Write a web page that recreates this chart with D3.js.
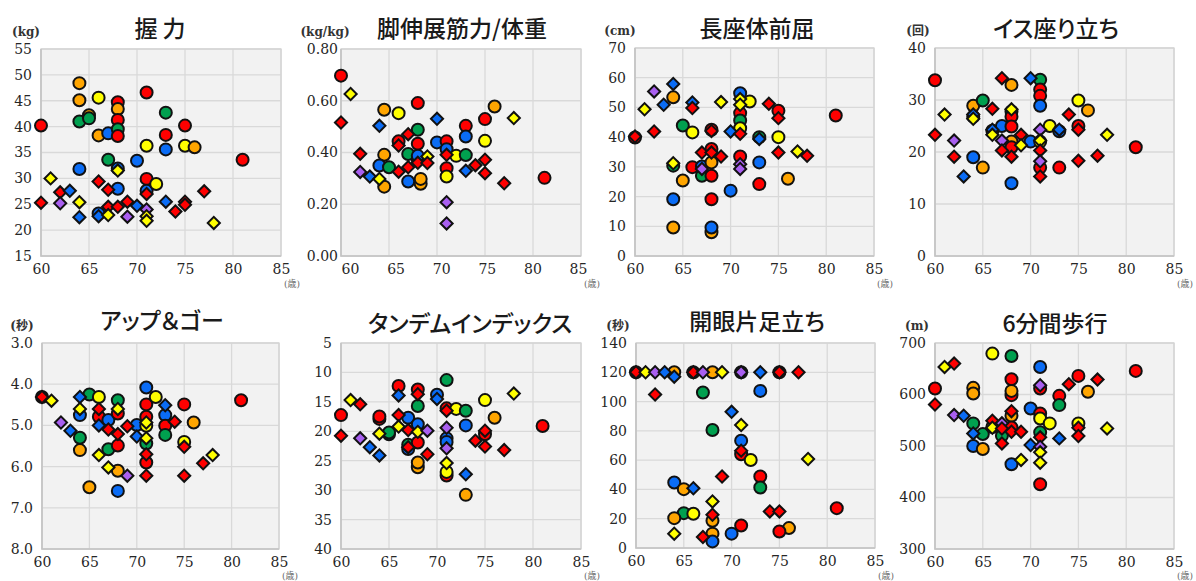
<!DOCTYPE html>
<html>
<head>
<meta charset="utf-8">
<script src="https://cdn.jsdelivr.net/npm/d3@7"></script>
<style>
    body { margin: 0; background: #fff; }
    svg { display: block; }
    .tick text { font-family: "DejaVu Serif", serif; font-size: 14px; fill: #262626; }
    .title { font-family: "Noto Sans CJK JP", sans-serif; font-size: 23px; font-weight: 500; fill: #1a1a1a; font-feature-settings: "palt" 1; }
    .unit { font-family: "DejaVu Serif", "Noto Sans CJK JP", serif; font-size: 12px; font-weight: bold; fill: #333; }
    .age { font-family: "DejaVu Serif", "Noto Sans CJK JP", serif; font-size: 9px; fill: #666; }
</style>
</head>
<body>
<svg id="chart" width="1196" height="581"></svg>
<script>
// Groups: first letter = colour group, second letter = c (circle) / d (diamond)
const groups = ["r", "o", "y", "g", "b", "p"];
const groupColors = ["#ff0000", "#ffa500", "#ffff00", "#00a04f", "#0a6cf5", "#a95ff0"];

const ageDomain = [60, 85];
const ageTicks = [60, 65, 70, 75, 80, 85];

// [age, value, group]
const gripData = [
    [60, 40.2, "rc"], [60, 25.3, "rd"], [61, 30, "yd"], [62, 27.3, "rd"], [62, 25.2, "pd"], [63, 27.6, "bd"],
    [64, 48.4, "oc"], [64, 45.1, "oc"], [64, 41, "gc"], [65, 42.2, "oc"], [65, 41.6, "gc"], [64, 31.8, "bc"],
    [64, 25.4, "yd"], [64, 22.5, "bd"], [66, 45.6, "yc"], [66, 38.3, "oc"], [67, 38.7, "bc"], [66, 29.4, "rd"],
    [66, 23.2, "bc"], [66, 22.7, "bd"], [67, 33.6, "gc"], [67, 27.8, "rd"], [67, 24.5, "rd"], [67, 22.9, "yd"],
    [68, 44.7, "rc"], [68, 43.4, "oc"], [68, 41.3, "rc"], [68, 39.5, "gc"], [68, 38.2, "rc"], [68, 31.9, "bc"],
    [68, 31.5, "yd"], [68, 28, "bc"], [68, 24.5, "rd"], [69, 25.5, "rd"], [69, 22.6, "pd"], [70, 33.4, "bc"],
    [70, 24.7, "bd"], [71, 46.6, "rc"], [71, 36.3, "yc"], [71, 29.9, "rc"], [71, 27.6, "bc"], [71, 27, "rd"],
    [71, 24, "pd"], [71, 22.7, "yd"], [71, 21.8, "yd"], [72, 28.9, "yc"], [73, 42.7, "gc"], [73, 38.4, "rc"],
    [73, 35.6, "bc"], [73, 25.5, "bd"], [74, 23.6, "rd"], [75, 40.2, "rc"], [75, 36.3, "yc"], [75, 25.5, "rd"],
    [75, 24.9, "rd"], [76, 36, "oc"], [77, 27.5, "rd"], [78, 21.4, "yd"], [81, 33.6, "rc"]
];

const legData = [
    [60, 0.697, "rc"], [60, 0.516, "rd"], [61, 0.626, "yd"], [62, 0.395, "rd"], [62, 0.325, "pd"], [63, 0.307, "bd"],
    [64.5, 0.565, "oc"], [64, 0.503, "bd"], [64.5, 0.391, "oc"], [64, 0.35, "bc"], [64, 0.298, "yd"], [64.5, 0.268, "oc"],
    [65, 0.343, "gc"], [66, 0.552, "yc"], [66, 0.443, "rc"], [66, 0.427, "rd"], [66, 0.326, "rd"], [67, 0.471, "rd"],
    [67, 0.394, "gc"], [67, 0.343, "rd"], [67, 0.288, "bc"], [68, 0.591, "rc"], [68, 0.488, "gc"], [68, 0.434, "rc"],
    [68, 0.372, "rc"], [68, 0.36, "rd"], [68, 0.387, "bc"], [68.3, 0.279, "oc"], [68.3, 0.298, "oc"], [69, 0.385, "yd"],
    [69, 0.359, "rd"], [70, 0.53, "bd"], [70, 0.439, "bc"], [71, 0.443, "rc"], [71, 0.413, "bc"], [71, 0.391, "rd"],
    [71, 0.339, "rc"], [71, 0.307, "yc"], [71, 0.208, "pd"], [71, 0.126, "pd"], [72, 0.387, "yc"], [73, 0.39, "gc"],
    [73, 0.503, "rc"], [73, 0.462, "bc"], [73, 0.329, "bd"], [74, 0.351, "rd"], [75, 0.529, "rc"], [75, 0.445, "yc"],
    [75, 0.372, "rd"], [75, 0.32, "rd"], [76, 0.578, "oc"], [77, 0.281, "rd"], [78, 0.533, "yd"], [81.2, 0.302, "rc"]
];

const sitReachData = [
    [60, 39.9, "rc"], [60, 40.2, "rd"], [61, 49.4, "yd"], [62, 55.4, "pd"], [62, 41.9, "rd"], [63, 50.9, "bd"],
    [64, 57.9, "bd"], [64, 53.4, "oc"], [64, 30.4, "gc"], [64, 31.2, "yd"], [64, 19.1, "bc"], [64, 9.6, "oc"],
    [65, 43.9, "gc"], [65, 25.4, "oc"], [66, 51.7, "bd"], [66, 49.8, "rd"], [66, 41.6, "yc"], [66, 29.9, "rc"],
    [67, 34.8, "rd"], [67, 30.1, "bc"], [67, 27, "gc"], [67, 29.3, "pd"], [68, 42.5, "rc"], [68, 42.1, "rd"],
    [68, 36, "rc"], [68, 34.8, "rd"], [68, 31.5, "oc"], [68, 27, "rc"], [68, 19.1, "rc"], [68, 8, "oc"],
    [68, 9.6, "bc"], [69, 51.8, "yd"], [69, 33.5, "rd"], [70, 41.9, "bd"], [70, 22, "bc"], [71, 54.8, "bc"],
    [71, 52.8, "yd"], [71, 50.9, "yd"], [71, 48.1, "rc"], [71, 45.6, "gc"], [71, 43, "yc"], [71, 41.1, "rd"],
    [71, 33.5, "rc"], [71, 30.9, "pd"], [71, 29.3, "pd"], [72, 52, "yc"], [73, 40, "gc"], [73, 39.4, "bd"],
    [73, 31.5, "bc"], [73, 24.2, "rc"], [74, 51.2, "rd"], [75, 48.9, "rc"], [75, 46.4, "rd"], [75, 40, "yc"],
    [75, 34.8, "rd"], [76, 26, "oc"], [77, 35.2, "yd"], [78, 33.7, "rd"], [81, 47.3, "rc"]
];

const chairStandData = [
    [60, 33.8, "rc"], [60, 23.3, "rd"], [61, 27.2, "yd"], [62, 22.2, "pd"], [62, 19.1, "rd"], [63, 15.3, "bd"],
    [64, 28.9, "oc"], [64, 26.8, "bc"], [64, 27.2, "bd"], [64, 26.4, "yd"], [64, 19, "bc"], [65, 29.9, "gc"],
    [65, 17, "oc"], [66, 28.3, "rd"], [66, 24.1, "bc"], [66, 24.3, "bd"], [66, 23.3, "yd"], [67, 25, "bc"],
    [67, 34.2, "rd"], [67, 22.2, "pd"], [67, 20.3, "rd"], [68, 32.9, "oc"], [68, 27.8, "gc"], [68, 28.2, "yd"],
    [68, 26.8, "rc"], [68, 24.9, "rc"], [68, 22, "oc"], [68, 20.9, "rc"], [68, 19.1, "rd"], [68, 14, "bc"],
    [69, 23.3, "rd"], [69, 21.3, "yd"], [70, 34.2, "bd"], [70, 22, "bc"], [71, 33.9, "gc"], [71, 32, "rc"],
    [71, 30.8, "rc"], [71, 28.9, "bc"], [71, 24.3, "pd"], [71, 22, "yc"], [71, 22.2, "yd"], [71, 20.3, "rd"],
    [71, 18.2, "pd"], [71, 17, "rc"], [71, 15.3, "rd"], [72, 25, "yc"], [73, 24, "bc"], [73, 24.3, "bd"],
    [73, 17, "rc"], [74, 27.2, "rd"], [75, 25, "rc"], [75, 24.3, "rd"], [75, 18.3, "rd"], [75, 29.9, "yc"],
    [76, 28, "oc"], [77, 19.3, "rd"], [78, 23.3, "yd"], [81, 20.9, "rc"]
];

const upGoData = [
    [60, 4.31, "rc"], [60, 4.31, "rd"], [61, 4.4, "yd"], [62, 4.93, "pd"], [63, 5.13, "bd"], [64, 4.31, "bd"],
    [64, 4.75, "bc"], [64, 4.6, "yd"], [64, 5.3, "gc"], [64, 5.6, "oc"], [65, 4.25, "gc"], [65, 6.5, "oc"],
    [66, 4.31, "yc"], [66, 4.79, "rc"], [66, 4.6, "rd"], [66, 5, "bd"], [66, 5.72, "yd"], [67, 4.87, "bc"],
    [67, 5.1, "rd"], [67, 5.58, "gc"], [67, 6.02, "yd"], [68, 4.39, "gc"], [68, 4.71, "rc"], [68, 4.6, "yd"],
    [68, 5.21, "rd"], [68, 5.49, "rc"], [68, 6.1, "oc"], [68, 6.59, "bc"], [69, 6.22, "pd"], [69, 5.02, "rd"],
    [70, 5.27, "bd"], [70, 4.99, "bc"], [71, 4.08, "bc"], [71, 4.49, "rc"], [71, 4.79, "rc"], [71, 5.01, "yc"],
    [71, 4.93, "yd"], [71, 5.44, "gc"], [71, 5.31, "yd"], [71, 5.9, "rc"], [71, 5.7, "rd"], [71, 6.22, "rd"],
    [72, 4.31, "yc"], [73, 4.51, "bd"], [73, 4.75, "bc"], [73, 5.01, "rc"], [73, 5.23, "gc"], [74, 4.91, "rd"],
    [75, 4.49, "rc"], [75, 5.4, "yc"], [75, 5.52, "rd"], [75, 6.22, "rd"], [76, 4.93, "oc"], [77, 5.92, "rd"],
    [78, 5.72, "yd"], [81, 4.39, "rc"]
];

const tandemData = [
    [60, 17.25, "rc"], [60, 20.75, "rd"], [61, 14.7, "yd"], [62, 15.4, "rd"], [62, 21.2, "pd"], [63, 22.7, "bd"],
    [64, 24.1, "bd"], [64, 17.9, "rc"], [64, 17.5, "rc"], [64, 20.4, "yd"], [65, 20.5, "bc"], [65, 20.2, "gc"],
    [66, 12.3, "rc"], [66, 13.9, "bd"], [66, 17.25, "rd"], [66, 19.2, "yd"], [67, 17.7, "bc"], [67, 19.8, "rd"],
    [67, 23, "bc"], [67, 22.3, "gc"], [67, 22.7, "rd"], [68, 12.9, "rc"], [68, 13.7, "rd"], [68, 15.7, "gc"],
    [68, 18.8, "bc"], [68, 20.1, "yd"], [68, 21.9, "rc"], [68, 26.1, "oc"], [68, 25.3, "oc"], [69, 19.9, "pd"],
    [69, 23.9, "rd"], [70, 13.8, "bc"], [70, 14.5, "bd"], [71, 11.3, "gc"], [71, 16.1, "rc"], [71, 16.5, "rd"],
    [71, 19.4, "pd"], [71, 21.2, "bc"], [71, 21.8, "bc"], [71, 22.9, "pd"], [71, 25.4, "yd"], [71, 27.5, "rc"],
    [71, 26.9, "yc"], [72, 16.2, "yc"], [73, 16.5, "gc"], [73, 19, "bc"], [73, 27.3, "bd"], [73, 30.8, "oc"],
    [74, 21.6, "rd"], [75, 14.7, "yc"], [75, 19.9, "rd"], [75, 20.5, "rc"], [75, 22.6, "rd"], [76, 17.7, "oc"],
    [77, 23.2, "rd"], [78, 13.6, "yd"], [81, 19.1, "rc"]
];

const oneLegData = [
    [60, 120, "rc"], [60, 120, "rd"], [61, 120, "yd"], [62, 120, "pd"], [63, 120, "bd"], [64, 120, "oc"],
    [64, 117, "bd"], [66, 120, "bc"], [66, 120, "rd"], [67, 120, "pd"], [68, 120, "oc"], [69, 120, "yd"],
    [71, 120, "bc"], [71, 120, "pd"], [73, 120, "bd"], [75, 120, "rc"], [75, 120, "rd"], [77, 120, "rd"],
    [62, 104.8, "rd"], [67, 106.2, "gc"], [73, 107.3, "bc"], [70, 93, "bd"], [71, 84, "yd"], [68, 80.6, "gc"],
    [71, 73.3, "bc"], [71, 64, "rc"], [71, 66.5, "rd"], [72, 60.1, "yc"], [78, 60.8, "yd"], [69, 48.8, "rd"],
    [73, 48.8, "rc"], [73, 41.3, "gc"], [64, 44.7, "bc"], [65, 40.2, "oc"], [66, 40.8, "bd"], [68, 31.8, "yd"],
    [81, 27.2, "rc"], [74, 25, "rd"], [75, 25, "rd"], [65, 23.8, "gc"], [66, 23.4, "yc"], [68, 22.7, "rd"],
    [68, 18.6, "oc"], [64, 20.4, "oc"], [71, 15.4, "rc"], [76, 13.6, "oc"], [75, 11.3, "rc"], [64, 9.8, "yd"],
    [68, 9.8, "oc"], [70, 9.8, "bc"], [67, 7.5, "rd"], [68, 4.5, "bc"]
];

const walkData = [
    [60, 611.6, "rc"], [60, 580.6, "rd"], [61, 653.5, "yd"], [62, 660, "rd"], [62, 560, "pd"], [63, 558.7, "bd"],
    [64, 612.9, "oc"], [64, 601.9, "oc"], [64, 543.9, "gc"], [64, 524.5, "bd"], [64, 500, "bc"], [65, 494.2, "oc"],
    [65, 523.2, "gc"], [66, 679.4, "yc"], [66, 549, "rd"], [66, 537, "yc"], [66, 535.5, "yd"], [67, 544, "pd"],
    [67, 520, "gc"], [67, 534, "rd"], [67, 505, "rd"], [68, 674.8, "gc"], [68, 629.7, "rc"], [68, 598.7, "rc"],
    [68, 607, "oc"], [68, 558.7, "oc"], [68, 567.7, "rd"], [68, 536, "rc"], [68, 527.7, "rd"], [68, 464.5, "bc"],
    [69, 527.7, "rd"], [69, 473, "yd"], [70, 572.9, "bc"], [70, 502, "bd"], [71, 653.5, "bc"], [71, 611.6, "rc"],
    [71, 618, "pd"], [71, 563.2, "rc"], [71, 553.5, "yc"], [71, 526.5, "gc"], [71, 516.8, "rd"], [71, 498.7, "pd"],
    [71, 487.7, "yd"], [71, 467.7, "yd"], [71, 425.8, "rc"], [72, 543.9, "yc"], [73, 597.4, "rc"], [73, 579.4, "gc"],
    [73, 514.8, "bd"], [74, 620, "rd"], [75, 636.1, "rc"], [75, 543.9, "yc"], [75, 535.5, "rd"], [75, 519.4, "rd"],
    [76, 605.2, "oc"], [77, 629, "rd"], [78, 534.2, "yd"], [81, 645.8, "rc"]
];

// Panel layout: box = [left, top, right, bottom] of the plot area
const panels = [
    { title: "握 力", unit: "(kg)", data: gripData, yDomain: [15, 55], yTicks: d3.range(15, 56, 5), fmt: "d",
      box: [41, 49, 281, 256], unitX: 26, titleX: 160, titleY: 27 },
    { title: "脚伸展筋力/体重", unit: "(kg/kg)", data: legData, yDomain: [0, 0.8], yTicks: [0, 0.2, 0.4, 0.6, 0.8], fmt: ".2f",
      box: [341, 49, 581, 256], unitX: 325, titleX: 462, titleY: 27, yGap: 3, labelShift: [9, -3] },
    { title: "長座体前屈", unit: "(cm)", data: sitReachData, yDomain: [0, 70], yTicks: d3.range(0, 71, 10), fmt: "d",
      box: [635, 48, 874, 256], unitX: 620, titleX: 757, titleY: 27 },
    { title: "イス座り立ち", unit: "(回)", data: chairStandData, yDomain: [0, 40], yTicks: d3.range(0, 41, 10), fmt: "d",
      box: [935, 48, 1174, 256], unitX: 918, titleX: 1056, titleY: 27 },
    { title: "アップ＆ゴー", unit: "(秒)", data: upGoData, yDomain: [3, 8], yTicks: d3.range(3, 8.1, 1), fmt: ".1f", reverse: true,
      box: [42, 343, 279, 549], unitX: 22, titleX: 162, titleY: 319 },
    { title: "タンデムインデックス", unit: "", data: tandemData, yDomain: [5, 40], yTicks: d3.range(5, 41, 5), fmt: "d", reverse: true,
      box: [341, 343, 581, 549], unitX: 0, titleX: 470, titleY: 322 },
    { title: "開眼片足立ち", unit: "(秒)", data: oneLegData, yDomain: [0, 140], yTicks: d3.range(0, 141, 20), fmt: "d",
      box: [636, 343, 875, 548], unitX: 618, titleX: 757, titleY: 320 },
    { title: "6分間歩行", unit: "(m)", data: walkData, yDomain: [300, 700], yTicks: d3.range(300, 701, 100), fmt: "d",
      box: [935, 343, 1174, 549], unitX: 917, titleX: 1055, titleY: 322 }
];

const svg = d3.select("#chart");
const color = d3.scaleOrdinal().domain(groups).range(groupColors);
const circlePath = d3.symbol().type(d3.symbolCircle).size(113)();
const diamondPath = d3.symbol().type(d3.symbolSquare).size(74)();

function drawPanel(p) {
    const [x0, y0, x1, y1] = p.box;
    const x = d3.scaleLinear().domain(ageDomain).range([x0, x1]);
    const y = d3.scaleLinear().domain(p.yDomain).range(p.reverse ? [y0, y1] : [y1, y0]);
    const g = svg.append("g");

    g.append("rect")
        .attr("x", x0).attr("y", y0)
        .attr("width", x1 - x0).attr("height", y1 - y0)
        .attr("fill", "#f2f2f2");

    //Grid lines
    g.append("g").selectAll("line").data(ageTicks).join("line")
        .attr("x1", d => x(d)).attr("x2", d => x(d))
        .attr("y1", y0).attr("y2", y1)
        .attr("stroke", "#d9d9d9").attr("stroke-width", 1.3);
    g.append("g").selectAll("line").data(p.yTicks).join("line")
        .attr("x1", x0).attr("x2", x1)
        .attr("y1", d => y(d)).attr("y2", d => y(d))
        .attr("stroke", "#d9d9d9").attr("stroke-width", 1.3);
    g.append("rect")
        .attr("x", x0).attr("y", y0)
        .attr("width", x1 - x0).attr("height", y1 - y0)
        .attr("fill", "none").attr("stroke", "#d4d4d4").attr("stroke-width", 1.3);
    // left and bottom axis lines are a little darker
    g.append("path")
        .attr("d", `M${x0},${y0}V${y1}H${x1}`)
        .attr("fill", "none").attr("stroke", "#c4c4c4").attr("stroke-width", 1.6);

    //Axes (labels only)
    const xl = p.labelShift ? x.copy().range([x0 + p.labelShift[0], x1 + p.labelShift[1]]) : x;
    g.append("g")
        .attr("transform", `translate(0,${y1})`)
        .call(d3.axisBottom(xl).tickValues(ageTicks).tickSize(0).tickPadding(8).tickFormat(d3.format("d")))
        .call(a => a.select(".domain").remove());
    g.append("g")
        .attr("transform", `translate(${x0},0)`)
        .call(d3.axisLeft(y).tickValues(p.yTicks).tickSize(0).tickPadding(p.yGap || 9).tickFormat(d3.format(p.fmt)))
        .call(a => a.select(".domain").remove());

    //Title, unit and age label
    g.append("text").attr("class", "title")
        .attr("x", p.titleX).attr("y", p.titleY)
        .attr("text-anchor", "middle").attr("dominant-baseline", "central")
        .text(p.title);
    if (p.unit)
        g.append("text").attr("class", "unit")
            .attr("x", p.unitX).attr("y", y0 - 17)
            .attr("text-anchor", "middle").attr("dominant-baseline", "central")
            .text(p.unit);
    g.append("text").attr("class", "age")
        .attr("x", x1 + 11).attr("y", Math.min(y1 + 28, 576))
        .attr("text-anchor", "middle").attr("dominant-baseline", "central")
        .text("(歳)");

    //Points: circles first, diamonds on top
    const pts = p.data.slice().sort((a, b) => (a[2][1] === "d") - (b[2][1] === "d"));
    g.append("g").selectAll("path").data(pts).join("path")
        .attr("d", d => d[2][1] === "c" ? circlePath : diamondPath)
        .attr("transform", d => `translate(${x(d[0])},${y(d[1])})` + (d[2][1] === "d" ? " rotate(45)" : ""))
        .attr("fill", d => color(d[2][0]))
        .attr("stroke", "#111")
        .attr("stroke-width", 2);
}

panels.forEach(drawPanel);
</script>
</body>
</html>
